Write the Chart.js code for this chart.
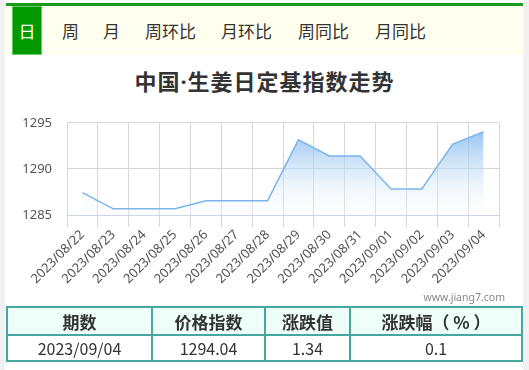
<!DOCTYPE html>
<html>
<head>
<meta charset="utf-8">
<script src="https://cdn.jsdelivr.net/npm/chart.js@4/dist/chart.umd.min.js"></script>
<style>
  body { margin: 0; width: 529px; height: 370px; background: #fff; position: relative; overflow: hidden;
         font-family: "Noto Sans CJK SC", "Noto Sans", sans-serif; }
  .side-l { position: absolute; left: 0; top: 0; width: 5px; height: 370px; background: #f1f1f1; }
  .side-r { position: absolute; left: 523px; top: 0; width: 6px; height: 370px; background: #f1f1f1; }
  .topline { position: absolute; left: 6px; top: 3px; width: 517px; height: 3px; background: #1a9a1a; }
  .tabs { position: absolute; left: 6px; top: 6px; width: 517px; height: 49px; background: #fffff0; }
  .tab { position: absolute; top: 0; height: 49px; line-height: 49px; font-size: 17px; color: #333; }
  .tab.on { background: #009900; color: #fff; width: 30px; text-align: center; left: 6px;
            box-shadow: inset 0 0 0 1px #66cc66; }
  .title { position: absolute; left: 0; width: 529px; top: 64px; text-align: center; font-size: 22px;
           font-weight: bold; color: #333; letter-spacing: 1px; }
  .title span { font-family: "Noto Sans", sans-serif; }
  #box { position: absolute; left: 0; top: 100px; width: 529px; height: 200px; }
  .mark { position: absolute; right: 24px; top: 290px; font-size: 10.5px; color: #888; font-family: "Noto Sans", sans-serif; }
  table { position: absolute; left: 6px; top: 306px; width: 517px; border-collapse: collapse; }
  td, th { border: 2px solid #45a79f; text-align: center; color: #333; padding: 0; }
  th { background: #eefff9; height: 26px; font-size: 17px; font-weight: bold; }
  td { height: 23px; font-size: 16px; }
</style>
</head>
<body>
<div class="side-l"></div>
<div class="side-r"></div>
<div class="topline"></div>
<div class="tabs">
  <div class="tab on">日</div>
  <div class="tab" style="left:56px">周</div>
  <div class="tab" style="left:97px">月</div>
  <div class="tab" style="left:139px">周环比</div>
  <div class="tab" style="left:215px">月环比</div>
  <div class="tab" style="left:292px">周同比</div>
  <div class="tab" style="left:369px">月同比</div>
</div>
<div class="title">中国<span>·</span>生姜日定基指数走势</div>
<div id="box"><canvas id="grafico"></canvas></div>
<div class="mark">www.jiang7.com</div>
<table>
  <tr><th style="width:143px">期数</th><th style="width:111px">价格指数</th><th style="width:83px">涨跌值</th><th>涨跌幅（ % ）</th></tr>
  <tr><td>2023/09/04</td><td>1294.04</td><td>1.34</td><td>0.1</td></tr>
</table>
<script>
const datas = ['2023/08/22','2023/08/23','2023/08/24','2023/08/25','2023/08/26','2023/08/27','2023/08/28',
               '2023/08/29','2023/08/30','2023/08/31','2023/09/01','2023/09/02','2023/09/03','2023/09/04'];
const indices = [1287.42, 1285.67, 1285.67, 1285.67, 1286.55, 1286.55, 1286.55,
                 1293.15, 1291.40, 1291.40, 1287.83, 1287.83, 1292.70, 1294.04];
const ticks_y = [1285, 1290, 1295];

const grafico = new Chart(document.getElementById('grafico'), {
    type: 'line',
    data: {
        labels: datas,
        datasets: [{
            data: indices,
            borderColor: '#7cb5ec',
            borderWidth: 1.5,
            pointRadius: 0,
            tension: 0,
            fill: 'start',
            backgroundColor: (context) => {
                const area = context.chart.chartArea;
                if (!area) return 'rgba(124,181,236,0.5)';
                const g = context.chart.ctx.createLinearGradient(0, area.top, 0, area.bottom);
                g.addColorStop(0, 'rgba(124,181,236,0.95)');
                g.addColorStop(1, 'rgba(255,255,255,0.2)');
                return g;
            }
        }]
    },
    options: {
        responsive: true,
        maintainAspectRatio: false,
        animation: false,
        layout: { padding: { top: 16, right: 30, left: 0, bottom: 0 } },
        plugins: { legend: { display: false }, tooltip: { enabled: false } },
        scales: {
            x: {
                offset: true,
                grid: { offset: true, color: '#d6d6d6', tickLength: 12 },
                border: { color: '#ccd6eb' },
                ticks: {
                    minRotation: 45, maxRotation: 45, padding: 0, autoSkip: false,
                    color: '#555', font: { size: 13, family: 'Noto Sans' }
                },
                afterFit: (s) => { s.height = 85; }
            },
            y: {
                min: 1285,
                max: 1295,
                afterBuildTicks: (s) => { s.ticks = ticks_y.map(v => ({ value: v })); },
                grid: { color: '#d6d6d6', drawTicks: false },
                border: { display: false },
                ticks: {
                    padding: 15, color: '#555', font: { size: 13, family: 'Noto Sans' },
                    callback: (v) => String(v)
                },
                afterFit: (s) => { s.width = 67; }
            }
        }
    }
});
</script>
</body>
</html>
